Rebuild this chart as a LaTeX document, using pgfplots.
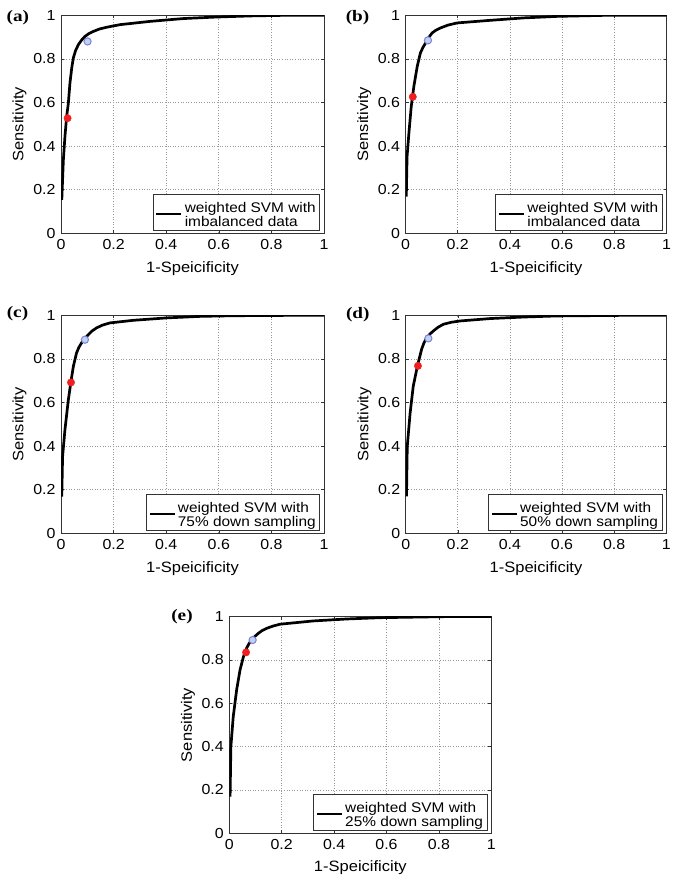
\documentclass[border=0pt]{standalone}
\usepackage{fontspec}
\setmainfont{Liberation Sans}[FakeStretch=1.1]
\newfontfamily\panelfont{Liberation Serif}[FakeStretch=1.2]
\usepackage{pgfplots}
\pgfplotsset{compat=1.18}
\definecolor{dotred}{RGB}{240,30,30}
\definecolor{ringedge}{RGB}{140,120,215}
\definecolor{ringfill}{RGB}{180,215,240}
\pgfplotsset{
  rocstyle/.style={
    scale only axis, width=262pt, height=218pt,
    xmin=0, xmax=1, ymin=0, ymax=1,
    xtick={0,0.2,0.4,0.6,0.8,1}, ytick={0,0.2,0.4,0.6,0.8,1},
    /pgf/number format/assume math mode=true,
    tick align=inside, major tick length=3pt,
    xtick pos=both, ytick pos=both,
    tick style={black!80, line width=0.5pt},
    axis line style={black!80, line width=0.7pt},
    grid=major,
    major grid style={dash pattern=on 1pt off 1.6pt, black!40, line width=0.7pt},
    ticklabel style={font=\fontsize{14.5}{17}\selectfont},
    yticklabel style={xshift=-2pt},
    xticklabel style={yshift=-3pt},
    label style={font=\fontsize{15}{18}\selectfont},
    xlabel={1-Speicificity},
    ylabel={Sensitivity},
    xlabel style={at={(axis description cs:0.5,-0.16)}, anchor=center},
    ylabel style={at={(axis description cs:-0.158,0.5)}, anchor=center, rotate=0},
    legend style={at={(rel axis cs:0.985,0.014)}, anchor=south east,
      draw=black!80, line width=0.6pt, inner xsep=2pt, inner ysep=6pt,
      font=\fontsize{14}{16.8}\selectfont, fill=white},
    legend cell align=left,
    legend image code/.code={\draw[line width=2.6pt, black] (0pt,-2pt) -- (25pt,-2pt);},
  },
  roccurve/.style={black, line width=2.7pt, line join=round, no marks},
  reddot/.style={only marks, mark=*, mark size=3.7pt, draw=dotred, fill=dotred, forget plot},
  ring/.style={only marks, mark=*, mark size=3.6pt, mark options={draw=ringedge, fill=ringfill, line width=1pt}, forget plot},
}
\newcommand{\legtext}[2]{{\renewcommand{\arraystretch}{0.84}\begin{tabular}{@{}l@{}}#1\\#2\rule[-5pt]{0pt}{5pt}\end{tabular}}}
\begin{document}
\begin{tikzpicture}
\useasboundingbox (0pt,0pt) rectangle (678pt,888pt);
% (a)
\begin{axis}[rocstyle, at={(61pt,654.7pt)}, anchor=south west, width=263pt]
\addplot[roccurve] coordinates {(0.003,0.153) (0.009,0.337) (0.015,0.444) (0.0215,0.536) (0.028,0.597) (0.034,0.689) (0.041,0.76) (0.047,0.805) (0.056,0.840) (0.066,0.865) (0.078,0.886) (0.091,0.903) (0.106,0.916) (0.123,0.926) (0.146,0.937) (0.173,0.945) (0.224,0.957) (0.338,0.972) (0.465,0.985) (0.591,0.992) (0.718,0.997) (0.857,1.0) (1,1)};
\addlegendentry{\legtext{weighted SVM with}{imbalanced data}}
\addplot[reddot] coordinates {(0.025,0.528)};
\addplot[ring] coordinates {(0.101,0.880)};
\end{axis}
% (b)
\begin{axis}[rocstyle, at={(405.5pt,654.7pt)}, anchor=south west, width=261pt]
\addplot[roccurve] coordinates {(0.003,0.168) (0.006,0.352) (0.013,0.459) (0.022,0.582) (0.032,0.674) (0.045,0.766) (0.057,0.827) (0.067,0.853) (0.077,0.873) (0.089,0.898) (0.102,0.919) (0.117,0.932) (0.134,0.942) (0.163,0.955) (0.198,0.965) (0.326,0.977) (0.453,0.988) (0.581,0.995) (0.773,1.0) (1,1)};
\addlegendentry{\legtext{weighted SVM with}{imbalanced data}}
\addplot[reddot] coordinates {(0.028,0.626)};
\addplot[ring] coordinates {(0.086,0.885)};
\end{axis}
% (c)
\begin{axis}[rocstyle, at={(61pt,354.7pt)}, anchor=south west, width=263pt]
\addplot[roccurve] coordinates {(0.003,0.168) (0.006,0.352) (0.015,0.475) (0.028,0.613) (0.037,0.689) (0.047,0.766) (0.059,0.827) (0.068,0.853) (0.078,0.873) (0.090,0.893) (0.104,0.911) (0.118,0.928) (0.135,0.942) (0.158,0.955) (0.186,0.965) (0.275,0.977) (0.401,0.988) (0.528,0.995) (0.654,0.998) (0.908,1.0) (1,1)};
\addlegendentry{\legtext{weighted SVM with}{75\% down sampling}}
\addplot[reddot] coordinates {(0.038,0.692)};
\addplot[ring] coordinates {(0.091,0.888)};
\end{axis}
% (d)
\begin{axis}[rocstyle, at={(405.7pt,354.7pt)}, anchor=south west, width=260.5pt]
\addplot[roccurve] coordinates {(0.003,0.169) (0.006,0.399) (0.017,0.552) (0.029,0.675) (0.045,0.767) (0.061,0.844) (0.070,0.873) (0.081,0.897) (0.093,0.914) (0.106,0.928) (0.124,0.945) (0.145,0.959) (0.175,0.968) (0.209,0.974) (0.324,0.985) (0.452,0.992) (0.58,0.997) (0.862,1.0) (1,1)};
\addlegendentry{\legtext{weighted SVM with}{50\% down sampling}}
\addplot[reddot] coordinates {(0.047,0.768)};
\addplot[ring] coordinates {(0.087,0.894)};
\end{axis}
% (e)
\begin{axis}[rocstyle, at={(229.3pt,54.7pt)}, anchor=south west, width=262pt, height=216.7pt]
\addplot[roccurve] coordinates {(0.003,0.169) (0.006,0.4) (0.015,0.538) (0.028,0.662) (0.041,0.754) (0.054,0.815) (0.066,0.854) (0.075,0.875) (0.085,0.892) (0.097,0.908) (0.111,0.923) (0.126,0.936) (0.143,0.946) (0.166,0.956) (0.194,0.965) (0.321,0.98) (0.448,0.989) (0.576,0.995) (0.831,1.0) (1,1)};
\addlegendentry{\legtext{weighted SVM with}{25\% down sampling}}
\addplot[reddot] coordinates {(0.064,0.835)};
\addplot[ring] coordinates {(0.089,0.892)};
\end{axis}
% panel letters
\node[font=\panelfont\bfseries\fontsize{16}{19}\selectfont] at (17.8pt,870pt) {(a)};
\node[font=\panelfont\bfseries\fontsize{16}{19}\selectfont] at (357.5pt,870pt) {(b)};
\node[font=\panelfont\bfseries\fontsize{16}{19}\selectfont] at (17.5pt,574pt) {(c)};
\node[font=\panelfont\bfseries\fontsize{16}{19}\selectfont] at (357.8pt,573.7pt) {(d)};
\node[font=\panelfont\bfseries\fontsize{16}{19}\selectfont] at (182pt,271.3pt) {(e)};
\end{tikzpicture}
\end{document}
